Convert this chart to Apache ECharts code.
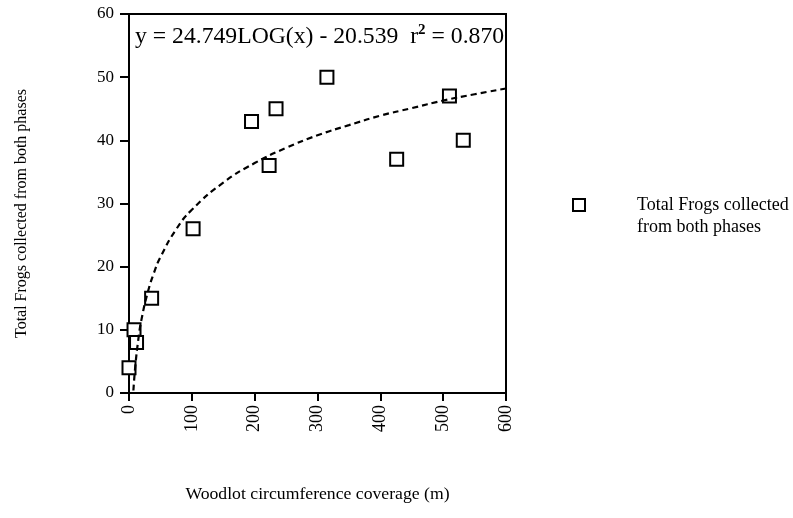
<!DOCTYPE html>
<html><head><meta charset="utf-8">
<script src="https://cdn.jsdelivr.net/npm/echarts@6/dist/echarts.min.js"></script>
<style>html,body{margin:0;padding:0;background:#fff}#c{width:793px;height:518px}</style>
</head><body><div id="c"></div>
<script>
// Observed data points (x = woodlot circumference coverage m, y = total frogs)
const coverage = [0, 8, 12, 36, 102, 195, 223, 234, 315, 426, 510, 532];
const frogs    = [4, 10, 8, 15, 26, 43, 36, 45, 50, 37, 47, 40];
// Dashed trend curve
const trendX = [7, 10, 15, 20, 30, 40, 50, 75, 100, 150, 200, 250, 300, 350, 400, 450, 500, 550, 600];
const trendY = [0.4, 4.2, 8.6, 11.7, 16.0, 19.1, 21.5, 25.9, 29.0, 33.3, 36.4, 38.8, 40.8, 42.4, 43.9, 45.1, 46.3, 47.3, 48.2];
const xTicks = [0, 100, 200, 300, 400, 500, 600];
const yTicks = [0, 10, 20, 30, 40, 50, 60];
const seriesName = 'Total Frogs collected\nfrom both phases';
const equation = 'y = 24.749LOG(x) - 20.539  r';

const serif = '"Liberation Serif", "DejaVu Serif", serif';
const chart = echarts.init(document.getElementById('c'));
chart.setOption({
  animation: false,
  backgroundColor: '#fff',
  grid: { left: 129, right: 287, top: 14, bottom: 125, show: true, borderColor: '#000', borderWidth: 2, backgroundColor: 'transparent' },
  title: {
    left: 130, top: 18,
    text: '{a|' + equation + '}{s|2}{a| = 0.870}',
    textStyle: { rich: {
      a: { fontFamily: serif, fontSize: 23.7, color: '#000', fontWeight: 'normal' },
      s: { fontFamily: serif, fontSize: 15, color: '#000', verticalAlign: 'top', padding: [0,0,12,0] }
    } }
  },
  legend: {
    left: 567, top: 191, orient: 'vertical',
    itemWidth: 12, itemHeight: 12,
    data: [{ name: seriesName, icon: 'rect' }],
    itemStyle: { color: '#fff', borderColor: '#000', borderWidth: 2 },
    formatter: n => n.split('\n').map(s => '{a|' + s + '}').join('\n'),
    textStyle: { padding: [22, 0, 0, 47], rich: { a: { fontFamily: serif, fontSize: 18, color: '#000', lineHeight: 22 } } }
  },
  xAxis: {
    type: 'value', min: xTicks[0], max: xTicks[xTicks.length - 1], interval: 100,
    name: 'Woodlot circumference coverage (m)', nameLocation: 'middle', nameGap: 92,
    nameTextStyle: { fontFamily: serif, fontSize: 17.7, color: '#000' },
    axisLine: { lineStyle: { color: '#000', width: 2 } },
    axisTick: { show: true, length: 8, lineStyle: { color: '#000', width: 2 } },
    axisLabel: { rotate: 90, margin: 12, fontFamily: serif, fontSize: 18, color: '#000' },
    splitLine: { show: false }
  },
  yAxis: {
    type: 'value', min: yTicks[0], max: yTicks[yTicks.length - 1], interval: 10,
    name: 'Total Frogs collected from both phases', nameLocation: 'middle', nameGap: 99,
    nameTextStyle: { fontFamily: serif, fontSize: 16, color: '#000', padding: [0, 20, 0, 0] },
    axisLine: { lineStyle: { color: '#000', width: 2 } },
    axisTick: { show: true, length: 9, lineStyle: { color: '#000', width: 2 } },
    axisLabel: { margin: 15, fontFamily: serif, fontSize: 17, color: '#000' },
    splitLine: { show: false }
  },
  series: [
    {
      name: seriesName, type: 'scatter', symbol: 'rect', symbolSize: 13,
      itemStyle: { color: '#fff', borderColor: '#000', borderWidth: 2, opacity: 1 },
      data: coverage.map((x, i) => [x, frogs[i]]), z: 2
    },
    {
      name: 'trend', type: 'line', smooth: true, symbol: 'none',
      lineStyle: { color: '#000', width: 2.2, type: [6, 4] },
      data: trendX.map((x, i) => [x, trendY[i]]), z: 3
    }
  ]
});
</script></body></html>
